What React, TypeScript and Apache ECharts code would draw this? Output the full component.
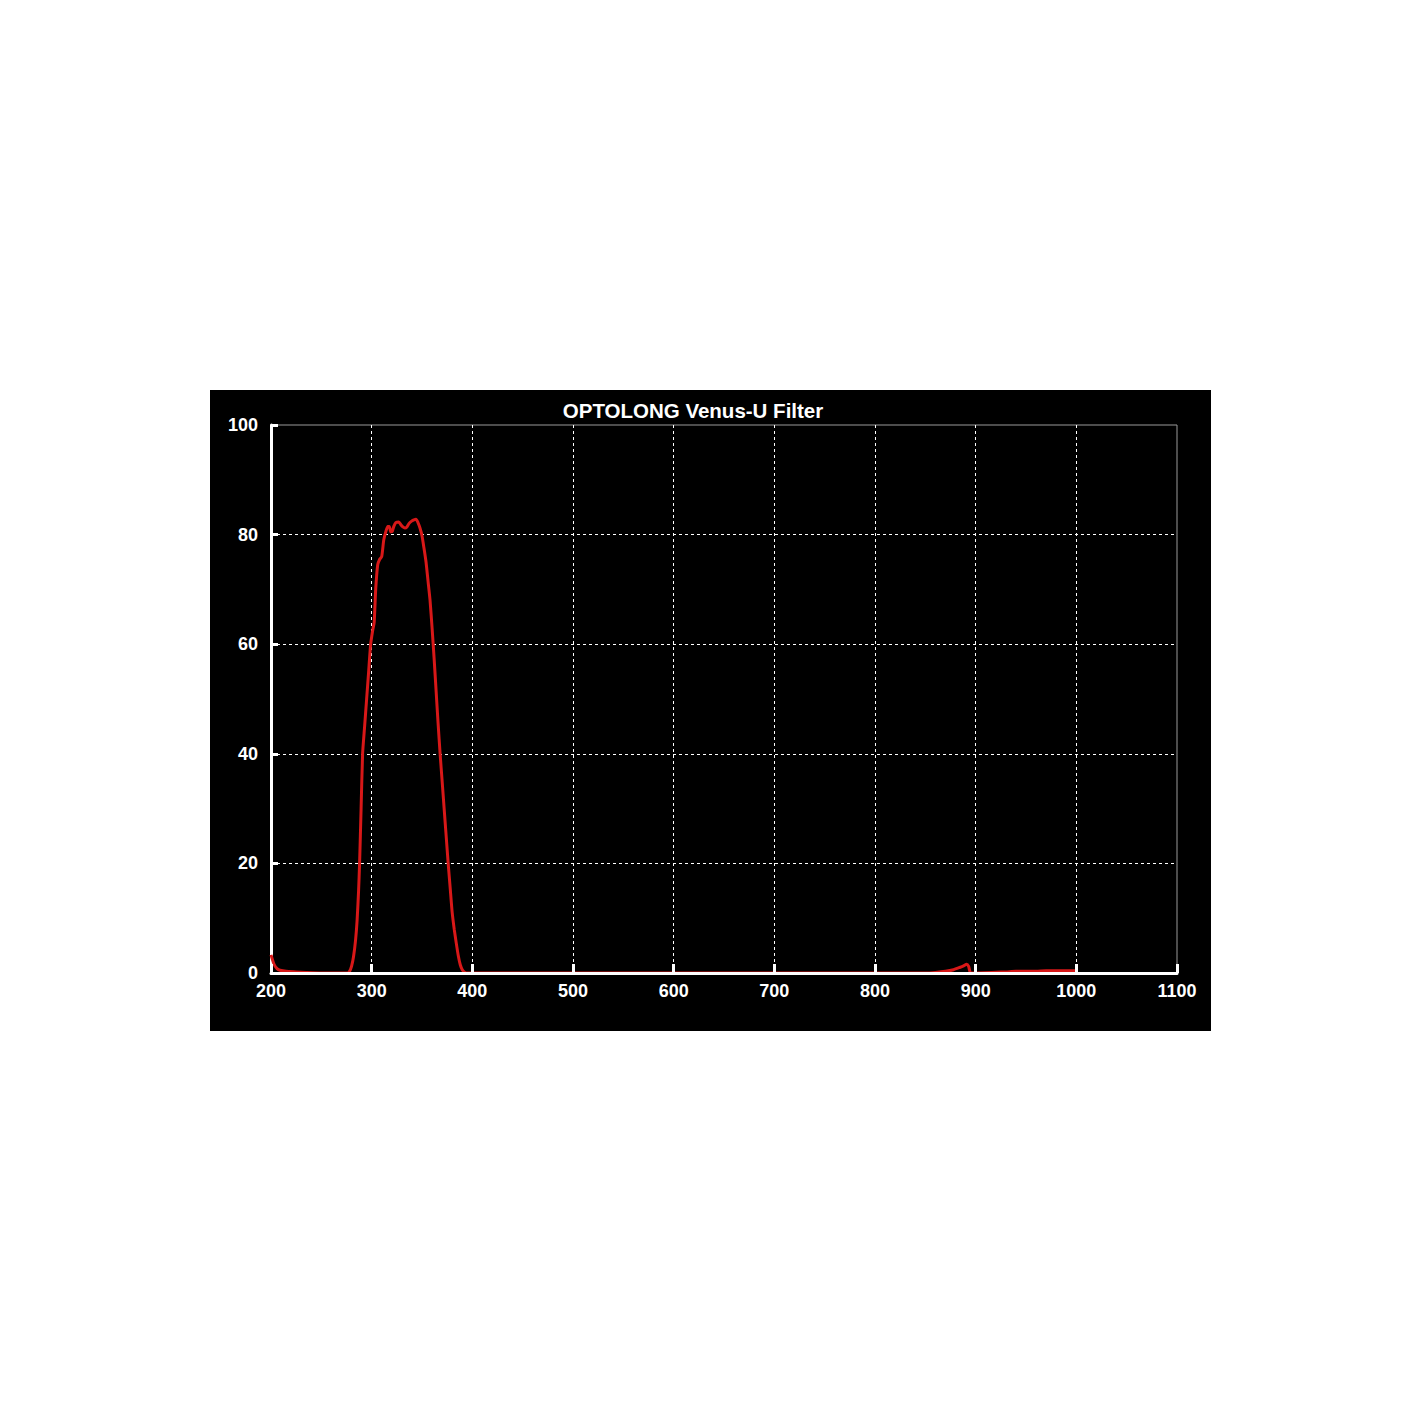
import React, { useEffect, useRef } from "react";
import * as echarts from "echarts";

const titleText = "OPTOLONG Venus-U Filter";
const xTicks = [200, 300, 400, 500, 600, 700, 800, 900, 1000, 1100];
const yTicks = [0, 20, 40, 60, 80, 100];

const wavelength = [
  200, 203, 206, 209, 215, 225, 235, 250, 265, 276, 278, 280, 282, 284, 285.5, 287, 288, 289.5, 291, 293, 295, 297, 299, 301,
  302.5, 304, 306, 308, 310, 312, 314, 316, 317.5, 319, 320.5, 322, 324, 327, 329, 331, 333, 335, 337, 340, 342, 344, 346,
  348, 350, 352, 354, 356, 358, 360, 362, 364, 366, 368, 370, 372, 374, 376, 378, 380, 382, 384, 386, 388, 390, 392, 395,
  420, 500, 600, 700, 800, 850, 860, 870, 878, 884, 888, 891, 893, 895, 900, 930, 940, 950, 960, 970, 980, 990, 1000,
];
const transmission = [
  3.3, 1.6, 0.8, 0.5, 0.3, 0.2, 0.1, 0, 0, 0, 0.3, 1.2, 3, 6, 9.5, 15, 20, 30, 40, 45, 50, 55, 60, 62.5,
  64, 70, 74.5, 75.5, 76, 79, 80.5, 81.5, 81.5, 80.5, 80.6, 81.5, 82.2, 82.3, 81.8, 81.4, 81.2, 81.4, 82, 82.5, 82.7, 82.8, 82.2,
  81.2, 79.8, 77.5, 75, 71.5, 68, 63, 57.5, 51.5, 45.5, 40, 35, 30, 25, 20, 15.5, 11, 8, 5.5, 3.2, 1.5, 0.6, 0.2, 0,
  0, 0, 0, 0, 0, 0, 0.1, 0.3, 0.6, 1.0, 1.3, 1.6, 1.2, 0, 0, 0.2, 0.3, 0.3, 0.3, 0.4, 0.4, 0.4, 0.4,
];

export default function App() {
  const ref = useRef<HTMLDivElement>(null);
  useEffect(() => {
    document.body.style.margin = "0";
    const chart = echarts.init(ref.current!, null, { renderer: "svg" });
    const data = wavelength.map((w, i) => [w, transmission[i]]);
    const font = "'Liberation Sans', Arial, sans-serif";
    const labelStyle = {
      color: "#ffffff",
      fontSize: 18,
      fontWeight: "bold",
      fontFamily: font,
    };
    const dashed = { color: "#ffffff", width: 1, type: [3, 3] };
    chart.setOption({
      animation: false,
      backgroundColor: "#ffffff",
      graphic: [
        { type: "rect", shape: { x: 210, y: 390, width: 1001, height: 641 }, style: { fill: "#000000" }, z: -10 },
        {
          type: "text",
          x: 693,
          y: 410,
          z: 10,
          style: {
            text: titleText,
            fill: "#ffffff",
            font: `bold 20.5px ${font}`,
            textAlign: "center",
            textVerticalAlign: "middle",
          },
        },
      ],
      grid: {
        left: 271,
        top: 425,
        width: 906,
        height: 548,
        show: true,
        borderColor: "#9a9a9a",
        borderWidth: 1,
        backgroundColor: "transparent",
      },
      xAxis: [
        {
          type: "value",
          min: xTicks[0],
          max: xTicks[xTicks.length - 1],
          interval: 100,
          z: 0,
          axisLine: { show: false },
          axisTick: { show: false },
          axisLabel: { show: false },
          splitLine: { show: true, showMinLine: false, showMaxLine: false, lineStyle: dashed },
        },
        {
          type: "value",
          position: "bottom",
          min: xTicks[0],
          max: xTicks[xTicks.length - 1],
          interval: 100,
          z: 5,
          axisLine: { show: true, onZero: false, lineStyle: { color: "#ffffff", width: 3 } },
          axisTick: { show: true, inside: true, length: 9, lineStyle: { color: "#ffffff", width: 3 } },
          axisLabel: { ...labelStyle, margin: 9, formatter: (v: number) => String(v) },
          splitLine: { show: false },
        },
      ],
      yAxis: {
        type: "value",
        min: yTicks[0],
        max: yTicks[yTicks.length - 1],
        interval: 20,
        axisLine: { show: true, lineStyle: { color: "#ffffff", width: 3 } },
        axisTick: { show: true, inside: true, length: 7, lineStyle: { color: "#ffffff", width: 3 } },
        axisLabel: { ...labelStyle, margin: 13 },
        splitLine: { show: true, showMinLine: false, showMaxLine: false, lineStyle: dashed },
      },
      series: [
        {
          type: "line",
          xAxisIndex: 0,
          data,
          showSymbol: false,
          smooth: 0.2,
          lineStyle: { color: "#d81818", width: 3 },
          z: 3,
        },
      ],
    });
    return () => chart.dispose();
  }, []);
  return (
    <div style={{ position: "absolute", left: 0, top: 0, width: 1422, height: 1422, background: "#fff" }}>
      <div ref={ref} style={{ width: 1422, height: 1422 }} />
    </div>
  );
}
